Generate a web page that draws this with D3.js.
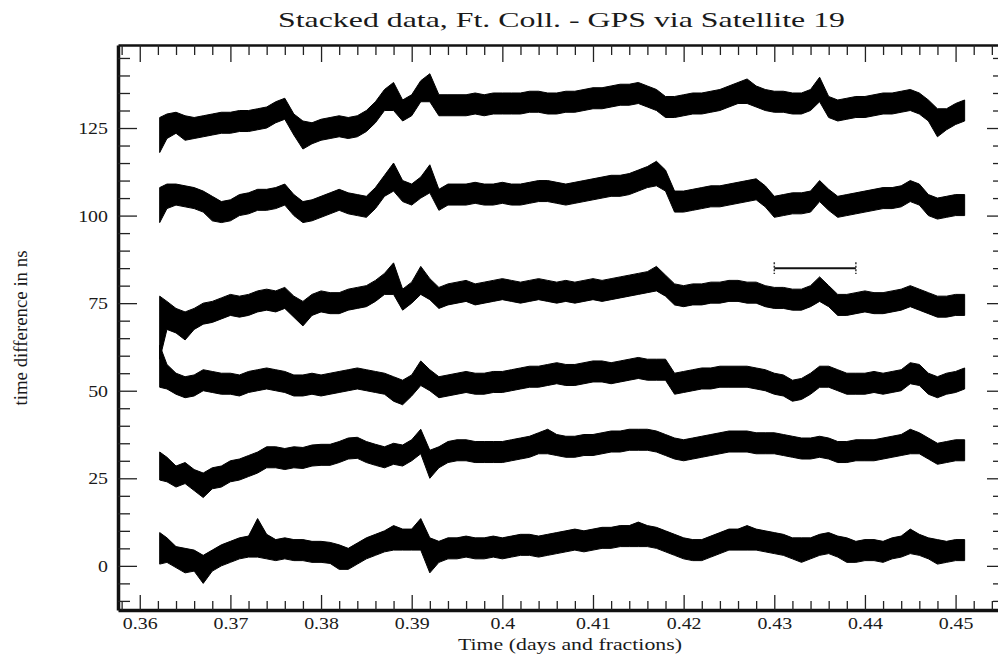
<!DOCTYPE html>
<html>
<head>
<meta charset="utf-8">
<script src="https://cdn.jsdelivr.net/npm/d3@7/dist/d3.min.js"></script>
<style>
  body { margin: 0; background: #fff; }
  text { font-family: "Liberation Serif", "Times New Roman", serif; fill: #1a1a1a; }
</style>
</head>
<body>
<div id="wrapper"></div>
<script>
// sample times (days), one every 0.001 after the first record
const times = [
  0.3622, 0.363, 0.364, 0.365, 0.366, 0.367, 0.368, 0.369, 0.370, 0.371,
  0.372, 0.373, 0.374, 0.375, 0.376, 0.377, 0.378, 0.379, 0.380, 0.381,
  0.382, 0.383, 0.384, 0.385, 0.386, 0.387, 0.388, 0.389, 0.390, 0.391,
  0.392, 0.393, 0.394, 0.395, 0.396, 0.397, 0.398, 0.399, 0.400, 0.401,
  0.402, 0.403, 0.404, 0.405, 0.406, 0.407, 0.408, 0.409, 0.410, 0.411,
  0.412, 0.413, 0.414, 0.415, 0.416, 0.417, 0.418, 0.419, 0.420, 0.421,
  0.422, 0.423, 0.424, 0.425, 0.426, 0.427, 0.428, 0.429, 0.430, 0.431,
  0.432, 0.433, 0.434, 0.435, 0.436, 0.437, 0.438, 0.439, 0.440, 0.441,
  0.442, 0.443, 0.444, 0.445, 0.446, 0.447, 0.448, 0.449, 0.450, 0.451
]

// each stacked record: running mean (ns) and half spread of the noise (ns)
const run1Mid = [
  5, 4.5, 2.5, 1.5, 1.5, -1, 1.5, 3, 4, 5,
  5.5, 8, 5.5, 4.5, 5, 4.5, 4.5, 4, 4, 3.7,
  2.5, 2, 3.5, 5, 6, 7, 8, 7.5, 7.5, 9,
  3, 4, 5, 5, 5.5, 5, 5, 5.5, 5, 5.5,
  6, 6, 5.5, 6, 6.5, 7, 7.5, 7, 7.5, 8,
  8, 8.5, 8.5, 9, 8.5, 8, 7, 6, 5, 4.5,
  4.5, 5.5, 6.5, 7.5, 7.5, 8, 7.5, 7, 6.5, 6,
  5, 4.5, 5, 6, 6.5, 5.5, 4.5, 4, 4.5, 4.5,
  4, 5, 5.5, 7, 6, 5, 4, 4, 4.5, 4.5
]
const run1Amp = [
  4.5, 3.5, 3, 3.5, 3, 4, 3, 3, 3, 3,
  3, 5.5, 3.5, 3, 3, 3, 3, 3, 3, 3,
  3.5, 3, 3, 3, 3, 3, 3.5, 3, 3, 4.5,
  5, 3, 3, 3, 3, 3, 3, 3, 3, 3,
  3, 3, 3, 3, 3, 3, 3, 3, 3, 3,
  3, 3, 3, 3.5, 3, 3, 3, 3, 3, 3,
  3, 3, 3, 3, 3, 3.5, 3, 3, 3, 3,
  3, 3.5, 3, 3, 3, 3, 3.5, 3, 3, 3,
  3, 3, 3, 3.5, 3, 3, 3.5, 3, 3, 3
]

const run2Mid = [
  28.5, 27.5, 25.5, 26.5, 24.5, 23, 25, 25.5, 27, 27.5,
  28.5, 29.5, 31, 31, 30.5, 31, 30.8, 31.5, 31.7, 31.7,
  32.5, 33.5, 33.7, 32.5, 31.7, 31, 32, 31.5, 33, 35.5,
  29, 31, 32.5, 33, 33, 32.5, 32.5, 32.5, 32.5, 33,
  33.5, 34, 35, 35.5, 34.5, 34, 34, 34.5, 34.5, 35,
  35.5, 35.5, 36, 36, 36, 35.5, 34.5, 33.5, 33, 33.5,
  34, 34.5, 35, 35.5, 35.5, 35.5, 35, 35, 35, 34.5,
  34, 33.5, 33.5, 34, 33.5, 32.5, 32.5, 33, 33, 33,
  33.5, 34, 34.5, 35.5, 35, 33.5, 32, 32.5, 33, 33
]
const run2Amp = [
  4, 3.5, 3, 3, 3, 3.5, 3, 3, 3, 3,
  3, 3, 3, 3, 3, 3, 3, 3, 3, 3,
  3, 3, 3, 3, 3, 3, 3, 3, 3, 3.5,
  4, 3, 3, 3, 3, 3, 3, 3, 3, 3,
  3, 3, 3, 3.5, 3, 3, 3, 3, 3, 3,
  3, 3, 3, 3, 3, 3, 3, 3, 3, 3,
  3, 3, 3, 3, 3, 3, 3, 3, 3, 3,
  3, 3, 3, 3, 3, 3, 3, 3, 3, 3,
  3, 3, 3, 3.5, 3, 3, 3, 3, 3, 3
]

const run3Mid = [
  57, 54, 52, 51, 51.5, 53, 52.5, 52, 52, 51.5,
  52.5, 53, 53.5, 53, 52.5, 51.5, 51.5, 52, 51.5, 52,
  52.5, 53, 53.5, 53, 52.5, 52, 50.5, 49.5, 51.5, 55,
  53, 51, 51.5, 52, 52.5, 52, 52, 52.5, 52.5, 53,
  53.5, 54, 54, 54.5, 55, 54.5, 54.5, 55, 55.5, 55.5,
  55, 55.5, 56, 56.5, 56, 56, 56, 52, 52.5, 53,
  53.5, 53.5, 54, 54, 54, 54, 53.5, 53, 52, 51.5,
  50, 50.5, 52, 54, 54, 53, 52, 52, 52, 52.5,
  52, 52.5, 53, 55, 54.5, 52, 51, 52, 52.5, 53.5
]
const run3Amp = [
  6, 3.5, 3, 3, 3, 3, 3, 3, 3, 3,
  3, 3, 3, 3, 3, 3, 3, 3, 3, 3,
  3, 3, 3, 3, 3, 3, 3.5, 3.5, 3, 3.5,
  3, 3, 3, 3, 3, 3, 3, 3, 3, 3,
  3, 3, 3, 3, 3, 3, 3, 3, 3, 3,
  3, 3, 3, 3, 3, 3, 3, 3, 3, 3,
  3, 3, 3, 3, 3, 3, 3, 3, 3, 3,
  3, 3, 3, 3, 3, 3, 3, 3, 3, 3,
  3, 3, 3, 3, 3, 3, 3, 3, 3, 3
]

const run4Mid = [
  68, 71.5, 70, 68.5, 70.5, 72, 72.5, 73.5, 74.5, 74,
  74.5, 75.5, 76, 75.5, 76.5, 74, 72, 74.5, 75.5, 75,
  75, 76, 76.5, 77, 78.5, 80.5, 82, 76, 78, 81.5,
  79, 76.5, 77.5, 78, 78.5, 77.5, 78, 78.5, 79, 78.5,
  78, 78.5, 79, 78.5, 78, 78.5, 78, 78.5, 79, 78.5,
  79, 79.5, 80, 80.5, 81, 82, 80, 77.5, 77, 77.5,
  77.5, 78, 78, 78.5, 78.5, 78, 78, 77, 76.5, 76.5,
  76, 76, 77, 79, 77, 74.5, 74.5, 75, 75.5, 75,
  75, 75.5, 76, 77, 76, 75, 74, 74, 74.5, 74.5
]
const run4Amp = [
  9, 4, 3.5, 4, 3, 3, 3, 3, 3, 3,
  3, 3, 3, 3, 3, 3, 3.5, 3, 3, 3,
  3, 3, 3, 3, 3, 3, 4.5, 3, 3, 4,
  3, 3, 3, 3, 3, 3, 3, 3, 3, 3,
  3, 3, 3, 3, 3, 3, 3, 3, 3, 3,
  3, 3, 3, 3, 3, 3.5, 3, 3, 3, 3,
  3, 3, 3, 3, 3, 3, 3, 3, 3, 3,
  3, 3, 3, 3.5, 3, 3, 3, 3, 3, 3,
  3, 3, 3, 3, 3, 3, 3, 3, 3, 3
]

const run5Mid = [
  103, 105.5, 106, 105.5, 105, 104, 102, 101, 101.5, 103,
  103.5, 104.5, 104.5, 105, 106, 103, 101, 101.5, 102.5, 103.5,
  104.5, 103.5, 103, 102.5, 105, 108.5, 111, 107, 106, 108,
  110.5, 104.5, 106, 106, 106, 106.5, 106, 106, 106.5, 106,
  106, 106.5, 107, 107, 106.5, 106, 106.5, 107, 107.5, 108,
  108.5, 108.5, 109, 110, 111, 112, 110, 104, 104, 104.5,
  105, 105.5, 105.5, 106, 106.5, 107, 107.5, 105.5, 102.5, 103,
  103.5, 103.5, 104, 107, 104.5, 102.5, 103, 103.5, 104, 104.5,
  105, 105, 105.5, 107, 106, 103, 102, 102.5, 103, 103
]
const run5Amp = [
  5, 3.5, 3, 3, 3, 3, 3.5, 3, 3, 3,
  3, 3, 3, 3, 3, 3, 3, 3, 3, 3,
  3, 3, 3, 3, 3, 3, 4, 3, 3, 3,
  4, 3, 3, 3, 3, 3, 3, 3, 3, 3,
  3, 3, 3, 3, 3, 3, 3, 3, 3, 3,
  3, 3, 3, 3, 3, 3.5, 3, 3, 3, 3,
  3, 3, 3, 3, 3, 3, 3, 3, 3, 3,
  3, 3, 3, 3, 3, 3, 3, 3, 3, 3,
  3, 3, 3, 3, 3, 3, 3, 3, 3, 3
]

const run6Mid = [
  123, 125.5, 126.5, 125, 125, 125.5, 126, 126.5, 126.5, 127,
  127, 127.5, 128, 129.5, 130.5, 126, 123, 123.5, 124.5, 125,
  125.5, 125, 125.5, 127, 129.5, 133, 134, 130, 131.5, 135.5,
  136.5, 131.5, 131.5, 131.5, 131.5, 132, 131.5, 132, 132, 132,
  132, 132.5, 132.5, 132, 132, 132.5, 132.5, 133, 133.5, 133.5,
  134, 134.5, 134.5, 135, 134, 133, 131, 131, 131.5, 132,
  132, 132.5, 133, 134, 135, 135.5, 134, 133, 132.5, 132.5,
  132, 132, 133, 136, 131, 130, 130.5, 131, 131, 131.5,
  132, 132, 132.5, 133, 132, 130, 126.5, 127.5, 129, 130
]
const run6Amp = [
  5, 3.5, 3, 3.5, 3, 3, 3, 3, 3, 3,
  3, 3, 3, 3, 3, 3, 4, 3, 3, 3,
  3, 3, 3, 3, 3, 3, 4, 3, 3, 3,
  4, 3, 3, 3, 3, 3, 3, 3, 3, 3,
  3, 3, 3, 3, 3, 3, 3, 3, 3, 3,
  3, 3, 3, 3, 3, 3, 3, 3, 3, 3,
  3, 3, 3, 3, 3, 3.5, 3, 3, 3, 3,
  3, 3, 3, 3.5, 3, 3, 3, 3, 3, 3,
  3, 3, 3, 3, 3, 3, 4, 3, 3, 3
]

const runs = [
  { mid: run1Mid, amp: run1Amp },
  { mid: run2Mid, amp: run2Amp },
  { mid: run3Mid, amp: run3Amp },
  { mid: run4Mid, amp: run4Amp },
  { mid: run5Mid, amp: run5Amp },
  { mid: run6Mid, amp: run6Amp },
]

// scale bar drawn in the plot (days, ns)
const barStart = 0.430
const barEnd = 0.439
const barLevel = 85

// axes
const xMajor = [0.36, 0.37, 0.38, 0.39, 0.40, 0.41, 0.42, 0.43, 0.44, 0.45]
const xTickLabels = ["0.36", "0.37", "0.38", "0.39", "0.4", "0.41", "0.42", "0.43", "0.44", "0.45"]
const yMajor = [0, 25, 50, 75, 100, 125]
const yTickLabels = ["0", "25", "50", "75", "100", "125"]

const titleText = "Stacked data, Ft. Coll. - GPS via Satellite 19"
const xLabelText = "Time (days and fractions)"
const yLabelText = "time difference in ns"

async function drawStack() {

  // 1. Chart dimensions
  let dimensions = {
    width: 998,
    height: 663,
    margin: { top: 45, right: -2, bottom: 53, left: 118 },
  }
  dimensions.boundedWidth = dimensions.width
    - dimensions.margin.left
    - dimensions.margin.right
  dimensions.boundedHeight = dimensions.height
    - dimensions.margin.top
    - dimensions.margin.bottom

  // 2. Canvas
  const wrapper = d3.select("#wrapper")
    .append("svg")
      .attr("width", dimensions.width)
      .attr("height", dimensions.height)
      .style("display", "block")

  const bounds = wrapper.append("g")
    .attr("transform", `translate(${dimensions.margin.left},${dimensions.margin.top})`)

  // 3. Scales
  const xScale = d3.scaleLinear()
    .domain([0.3576, 0.4549])
    .range([0, dimensions.boundedWidth])

  const yScale = d3.scaleLinear()
    .domain([-12.6, 148.7])
    .range([dimensions.boundedHeight, 0])

  // 4. Data: noisy records drawn as filled bands
  const bandGenerator = d3.area()
    .x((d, i) => xScale(times[i]))
    .y0(d => yScale(d.mid - d.amp))
    .y1(d => yScale(d.mid + d.amp))

  bounds.selectAll(".run")
    .data(runs)
    .join("path")
      .attr("class", "run")
      .attr("d", r => bandGenerator(r.mid.map((m, i) => ({ mid: m, amp: r.amp[i] }))))
      .attr("fill", "#000")
      .attr("stroke", "#000")
      .attr("stroke-width", 1)
      .attr("stroke-linejoin", "round")

  // scale bar
  bounds.append("line")
    .attr("x1", xScale(barStart)).attr("x2", xScale(barEnd))
    .attr("y1", yScale(barLevel)).attr("y2", yScale(barLevel))
    .attr("stroke", "#111").attr("stroke-width", 2)
  bounds.selectAll(".cap")
    .data([barStart, barEnd])
    .join("line")
      .attr("class", "cap")
      .attr("x1", d => xScale(d)).attr("x2", d => xScale(d))
      .attr("y1", yScale(barLevel + 1.7)).attr("y2", yScale(barLevel - 1.7))
      .attr("stroke", "#333").attr("stroke-width", 1.5)
      .attr("stroke-dasharray", "2,1.5")

  // 5. Axes
  const xMinor = d3.range(0.358, 0.4555, 0.002)
    .filter(v => !xMajor.some(m => Math.abs(m - v) < 1e-6))
  const yMinor = d3.range(-10, 150, 5)
    .filter(v => v % 25 !== 0)

  const stretch = function(factor) {
    return function() {
      const w = this.getComputedTextLength()
      d3.select(this)
        .attr("textLength", w * factor)
        .attr("lengthAdjust", "spacingAndGlyphs")
    }
  }

  const styleAxis = (g, lineWidth) => {
    g.select(".domain").attr("stroke", "#111").attr("stroke-width", lineWidth)
    g.selectAll(".tick line").attr("stroke", "#222").attr("stroke-width", 1.3)
    g.selectAll(".tick text")
      .attr("fill", "#1a1a1a")
      .style("font-family", "'Liberation Serif', 'Times New Roman', serif")
      .style("font-size", "17px")
  }

  // bottom
  const xAxis = bounds.append("g")
    .attr("transform", `translate(0,${dimensions.boundedHeight})`)
    .call(d3.axisBottom(xScale)
      .tickValues(xMajor)
      .tickFormat((d, i) => xTickLabels[i])
      .tickSize(-15).tickSizeOuter(0).tickPadding(7))
  styleAxis(xAxis, 3.5)
  xAxis.selectAll(".tick text").each(stretch(1.17))

  bounds.append("g")
    .attr("transform", `translate(0,${dimensions.boundedHeight})`)
    .call(d3.axisBottom(xScale).tickValues(xMinor).tickFormat("")
      .tickSize(-9).tickSizeOuter(0))
    .call(g => { g.select(".domain").remove(); g.selectAll("line").attr("stroke", "#222").attr("stroke-width", 1.3) })

  // top
  const xTop = bounds.append("g")
    .call(d3.axisTop(xScale).tickValues(xMajor).tickFormat("")
      .tickSize(-17).tickSizeOuter(0))
  styleAxis(xTop, 2.5)
  bounds.append("g")
    .call(d3.axisTop(xScale).tickValues(xMinor).tickFormat("")
      .tickSize(-10).tickSizeOuter(0))
    .call(g => { g.select(".domain").remove(); g.selectAll("line").attr("stroke", "#222").attr("stroke-width", 1.3) })

  // left
  const yAxis = bounds.append("g")
    .call(d3.axisLeft(yScale)
      .tickValues(yMajor)
      .tickFormat((d, i) => yTickLabels[i])
      .tickSize(-19).tickSizeOuter(0).tickPadding(10))
  styleAxis(yAxis, 3.5)
  yAxis.selectAll(".tick text").each(stretch(1.17))

  bounds.append("g")
    .call(d3.axisLeft(yScale).tickValues(yMinor).tickFormat("")
      .tickSize(-12).tickSizeOuter(0))
    .call(g => { g.select(".domain").remove(); g.selectAll("line").attr("stroke", "#222").attr("stroke-width", 1.3) })

  // right
  const yRight = bounds.append("g")
    .attr("transform", `translate(${dimensions.boundedWidth},0)`)
    .call(d3.axisRight(yScale).tickValues(yMajor).tickFormat("")
      .tickSize(-13).tickSizeOuter(0))
  styleAxis(yRight, 2)
  bounds.append("g")
    .attr("transform", `translate(${dimensions.boundedWidth},0)`)
    .call(d3.axisRight(yScale).tickValues(yMinor).tickFormat("")
      .tickSize(-7).tickSizeOuter(0))
    .call(g => { g.select(".domain").remove(); g.selectAll("line").attr("stroke", "#222").attr("stroke-width", 1.3) })

  // 6. Labels
  wrapper.append("text")
    .attr("x", 278)
    .attr("y", 27)
    .attr("textLength", 567)
    .attr("lengthAdjust", "spacingAndGlyphs")
    .style("font-size", "21px")
    .text(titleText)

  wrapper.append("text")
    .attr("x", 458)
    .attr("y", 650)
    .attr("textLength", 224)
    .attr("lengthAdjust", "spacingAndGlyphs")
    .style("font-size", "17px")
    .text(xLabelText)

  wrapper.append("text")
    .attr("transform", "translate(27,328) rotate(-90)")
    .attr("text-anchor", "middle")
    .attr("textLength", 155)
    .attr("lengthAdjust", "spacingAndGlyphs")
    .style("font-size", "18.5px")
    .text(yLabelText)
}
drawStack()
</script>
</body>
</html>
